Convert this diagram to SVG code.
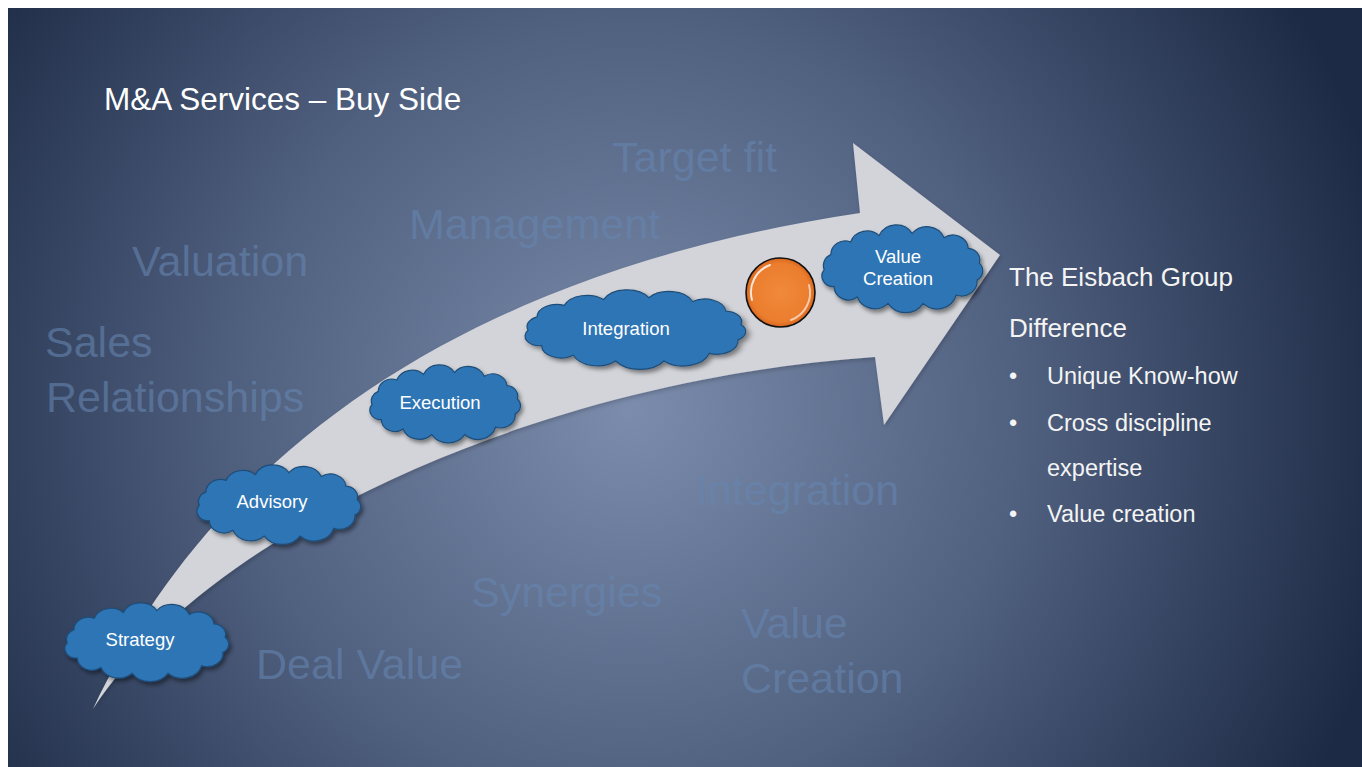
<svg xmlns="http://www.w3.org/2000/svg" xmlns:xlink="http://www.w3.org/1999/xlink" width="1362" height="767" viewBox="0 0 1362 767">
  <defs>
    <radialGradient id="bg" gradientUnits="userSpaceOnUse" cx="630" cy="410" r="780">
      <stop offset="0" stop-color="#7b8cac"/>
      <stop offset="0.5" stop-color="#50607f"/>
      <stop offset="1" stop-color="#1c2a45"/>
    </radialGradient>
    <radialGradient id="orange" cx="0.5" cy="0.5" r="0.5">
      <stop offset="0" stop-color="#f08a3a"/>
      <stop offset="0.85" stop-color="#eb7d2e"/>
      <stop offset="1" stop-color="#d8661c"/>
    </radialGradient>
    <filter id="shadow" x="-10%" y="-10%" width="125%" height="130%">
      <feDropShadow dx="2" dy="3" stdDeviation="2" flood-color="#000" flood-opacity="0.45"/>
    </filter>
    <filter id="ashadow" x="-5%" y="-5%" width="112%" height="112%">
      <feDropShadow dx="1" dy="2" stdDeviation="2" flood-color="#000" flood-opacity="0.2"/>
    </filter>
    <path id="cloud" d="M8,42 A11,11 0 0 1 14,28 A13,13 0 0 1 32,16 A16,16 0 0 1 58,10 A17,17 0 0 1 88,8 A17,17 0 0 1 117,12 A14,14 0 0 1 139,22 A11,11 0 0 1 149,36 A10,10 0 0 1 147,52 A14,14 0 0 1 128,66 A18,18 0 0 1 98,74 A19,19 0 0 1 66,74 A17,17 0 0 1 38,68 A13,13 0 0 1 17,58 A10,10 0 0 1 8,42 Z" vector-effect="non-scaling-stroke"/>
  </defs>
  <style>
    .faint { font-family: "Liberation Sans", Arial, sans-serif; font-size: 43px; fill: #6685b0; fill-opacity: 0.6; }
    .cloud { fill: #2e74b5; stroke: #1f4e79; stroke-width: 1.2; filter: url(#shadow); }
    .ctext { font-family: "Liberation Sans", Arial, sans-serif; font-size: 18.5px; fill: #ffffff; text-anchor: middle; }
    .white { font-family: "Liberation Sans", Arial, sans-serif; fill: #ffffff; }
    .side { font-family: "Liberation Sans", Arial, sans-serif; fill: #f4f4f4; }
  </style>

  <rect x="0" y="0" width="1362" height="767" fill="#ffffff"/>
  <rect x="8" y="8" width="1354" height="759" fill="url(#bg)"/>

  <g id="background-words">
    <text class="faint" x="612" y="172">Target fit</text>
    <text class="faint" x="409" y="239">Management</text>
    <text class="faint" x="132" y="276">Valuation</text>
    <text class="faint" x="45" y="357">Sales</text>
    <text class="faint" x="46" y="412">Relationships</text>
    <text class="faint" x="696" y="505">Integration</text>
    <text class="faint" x="471" y="607">Synergies</text>
    <text class="faint" x="741" y="638">Value</text>
    <text class="faint" x="741" y="693">Creation</text>
    <text class="faint" x="256" y="679">Deal Value</text>
  </g>

  <g id="title">
    <text class="white" x="104" y="110" font-size="31.5">M&amp;A Services – Buy Side</text>
  </g>

  <g id="connectors">
    <path id="arrow" d="M93,709 C220,440 480,270 860,213 L853,143 L1000,255 L884,425 L875,357 C540,380 210,530 93,709 Z" fill="#d3d4d9" filter="url(#ashadow)"/>
  </g>

  <g id="node-strategy">
    <use href="#cloud" class="cloud" transform="translate(58.3,603) scale(1.12,0.95)"/>
    <text class="ctext" x="140" y="646">Strategy</text>
  </g>
  <g id="node-advisory">
    <use href="#cloud" class="cloud" transform="translate(190.3,465) scale(1.12,0.96)"/>
    <text class="ctext" x="272" y="508">Advisory</text>
  </g>
  <g id="node-execution">
    <use href="#cloud" class="cloud" transform="translate(363.8,365) scale(1.03,0.94)"/>
    <text class="ctext" x="440" y="409">Execution</text>
  </g>
  <g id="node-integration">
    <use href="#cloud" class="cloud" transform="translate(516,290) scale(1.51,0.96)"/>
    <text class="ctext" x="626" y="335">Integration</text>
  </g>
  <g id="node-milestone">
    <circle cx="780.5" cy="292.5" r="34.5" fill="url(#orange)" stroke="#111" stroke-width="1.6"/>
    <path d="M752,300 A29,29 0 0 1 770,265" fill="none" stroke="#ffffff" stroke-opacity="0.8" stroke-width="2" stroke-linecap="round"/>
    <path d="M809,285 A29,29 0 0 1 791,320" fill="none" stroke="#ffffff" stroke-opacity="0.6" stroke-width="2" stroke-linecap="round"/>
  </g>
  <g id="node-value-creation">
    <use href="#cloud" class="cloud" transform="translate(815.4,225) scale(1.10,1.06)"/>
    <text class="ctext" x="898" y="263">Value</text>
    <text class="ctext" x="898" y="285">Creation</text>
  </g>

  <g id="difference">
    <text class="side" x="1009" y="286" font-size="26">The Eisbach Group</text>
    <text class="side" x="1009" y="337" font-size="26">Difference</text>
    <text class="side" x="1009" y="384" font-size="23.5">•</text>
    <text class="side" x="1047" y="384" font-size="23.5">Unique Know-how</text>
    <text class="side" x="1009" y="431" font-size="23.5">•</text>
    <text class="side" x="1047" y="431" font-size="23.5">Cross discipline</text>
    <text class="side" x="1047" y="476" font-size="23.5">expertise</text>
    <text class="side" x="1009" y="522" font-size="23.5">•</text>
    <text class="side" x="1047" y="522" font-size="23.5">Value creation</text>
  </g>
</svg>
